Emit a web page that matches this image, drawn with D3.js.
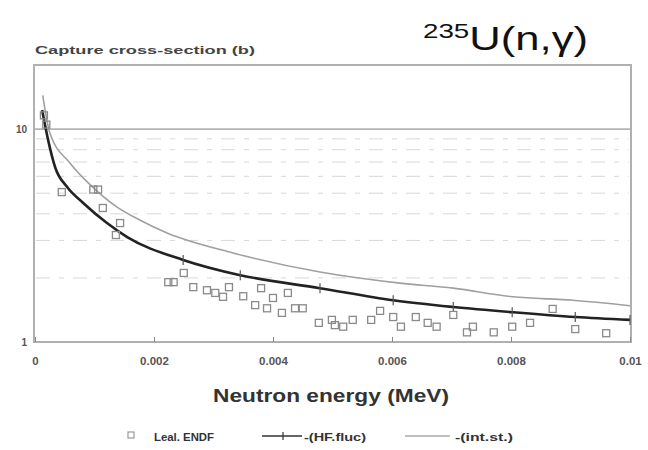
<!DOCTYPE html>
<html><head><meta charset="utf-8">
<script src="https://cdn.jsdelivr.net/npm/d3@7"></script>
<style>body{margin:0;background:#fff}svg{display:block}text{font-family:"Liberation Sans",Arial,sans-serif}</style>
</head><body><svg id="c" width="648" height="450"></svg>
<script>
// Leal. ENDF evaluated points (energy MeV, cross-section b)
const endfE = [0.00015,0.00019,0.00045,0.00098,0.00106,0.00114,0.00136,0.00143,0.00224,0.00233,0.0025,0.00266,0.00289,0.00303,0.00316,0.00326,0.0035,0.0037,0.0038,0.0039,0.004,0.00415,0.00425,0.00437,0.0045,0.00477,0.00499,0.00504,0.00518,0.00534,0.00565,0.0058,0.00602,0.00615,0.0064,0.0066,0.00675,0.00703,0.00726,0.00736,0.00771,0.00802,0.00832,0.0087,0.00908,0.0096];
const endfS = [11.6,10.5,5.06,5.2,5.2,4.26,3.18,3.62,1.91,1.91,2.11,1.81,1.75,1.70,1.63,1.81,1.64,1.49,1.79,1.44,1.61,1.37,1.70,1.44,1.44,1.23,1.27,1.20,1.18,1.27,1.27,1.40,1.31,1.18,1.31,1.23,1.18,1.34,1.11,1.18,1.11,1.18,1.23,1.43,1.15,1.10];
// -(HF.fluc) curve
const hfE = [0.00012,0.00022,0.00034,0.00054,0.00081,0.00121,0.00155,0.00249,0.00345,0.00479,0.00602,0.00703,0.00802,0.00908,0.01];
const hfS = [12.3,8.9,6.6,5.34,4.5,3.62,3.11,2.43,2.06,1.79,1.57,1.46,1.38,1.31,1.27];
// -(int.st.) curve
const isE = [0.00013,0.00025,0.00059,0.00097,0.00138,0.00176,0.00222,0.00333,0.00479,0.00613,0.00703,0.00803,0.00904,0.01];
const isS = [14.4,9.58,6.92,5.34,4.30,3.74,3.25,2.62,2.13,1.89,1.79,1.63,1.57,1.48];
const xTicks = [0,0.002,0.004,0.006,0.008,0.01];
const yTicks = [1,10];
const yMinor = [2,3,4,5,6,7,8,9];
const legendLabels = ["Leal. ENDF","-(HF.fluc)","-(int.st.)"];

const svg = d3.select("#c");
const x = d3.scaleLinear().domain([0,0.01]).range([35,630]);
const y = d3.scaleLog().domain([1,20]).range([342,65]);

// minor grid
svg.append("g").selectAll("line").data(yMinor).join("line")
  .attr("x1",36).attr("x2",629).attr("y1",d=>y(d)).attr("y2",d=>y(d))
  .attr("stroke","#d8d8d8").attr("stroke-width",1).attr("stroke-dasharray","14,9,5,9");
// major grid at 10
svg.append("line").attr("x1",34).attr("x2",631).attr("y1",y(10)).attr("y2",y(10))
  .attr("stroke","#b4b4b4").attr("stroke-width",1.6);

// frame
svg.append("rect").attr("x",34).attr("y",65).attr("width",597).attr("height",277)
  .attr("fill","none").attr("stroke","#b0b0b0").attr("stroke-width",2);

// x axis
const xa = svg.append("g").attr("transform","translate(0,342)")
  .call(d3.axisBottom(x).tickValues(xTicks).tickSize(-5).tickPadding(15)
    .tickFormat(d=>d===0?"0":d3.format(".3~f")(d)));
xa.select(".domain").remove();
xa.selectAll("line").attr("stroke","#888");
xa.selectAll("text").attr("fill","#555").attr("font-size","11.5px").attr("font-weight","bold").attr("font-family","Liberation Sans, Arial, sans-serif");

// y axis
const ya = svg.append("g").attr("transform","translate(34,0)")
  .call(d3.axisLeft(y).tickValues(yTicks).tickSize(0).tickPadding(7).tickFormat(d3.format("d")));
ya.select(".domain").remove();
ya.selectAll("text").attr("fill","#555").attr("font-size","10px").attr("font-weight","bold").attr("font-family","Liberation Sans, Arial, sans-serif");

const line = d3.line().x(d=>x(d[0])).y(d=>y(d[1])).curve(d3.curveMonotoneX);
svg.append("path").datum(d3.zip(isE,isS)).attr("d",line)
  .attr("fill","none").attr("stroke","#a0a0a0").attr("stroke-width",1.6);
svg.append("path").datum(d3.zip(hfE,hfS)).attr("d",line)
  .attr("fill","none").attr("stroke","#222").attr("stroke-width",2.6);
// plus marks on HF curve
svg.append("g").selectAll("line").data(d3.zip(hfE,hfS).filter(d=>d[0]>0.002)).join("line")
  .attr("x1",d=>x(d[0])).attr("x2",d=>x(d[0])).attr("y1",d=>y(d[1])-5).attr("y2",d=>y(d[1])+5)
  .attr("stroke","#555").attr("stroke-width",1.2);

// ENDF squares
svg.append("g").selectAll("rect").data(d3.zip(endfE,endfS)).join("rect")
  .attr("x",d=>x(d[0])-3.5).attr("y",d=>y(d[1])-3.5).attr("width",7).attr("height",7)
  .attr("fill","none").attr("stroke","#8a8a8a").attr("stroke-width",1.3);

// titles
svg.append("text").attr("x",35).attr("y",54).text("Capture cross-section (b)")
  .attr("font-size","11px").attr("font-weight","bold").attr("fill","#444")
  .attr("textLength",220).attr("lengthAdjust","spacingAndGlyphs");
const t = svg.append("text").attr("x",423).attr("y",50).attr("fill","#111").attr("font-size","33px")
  .attr("textLength",165).attr("lengthAdjust","spacingAndGlyphs");
t.append("tspan").attr("font-size","21px").attr("dy",-12).text("235");
t.append("tspan").attr("dy",12).text("U(n,γ)");

svg.append("text").attr("x",213).attr("y",402).text("Neutron energy (MeV)")
  .attr("font-size","18px").attr("font-weight","bold").attr("fill","#333")
  .attr("textLength",236).attr("lengthAdjust","spacingAndGlyphs");

// legend
const lg = svg.append("g");
lg.append("rect").attr("x",128).attr("y",432).attr("width",6).attr("height",6)
  .attr("fill","none").attr("stroke","#999").attr("stroke-width",1.2);
lg.append("line").attr("x1",262).attr("x2",302).attr("y1",436).attr("y2",436).attr("stroke","#333").attr("stroke-width",1.3);
lg.append("line").attr("x1",283).attr("x2",283).attr("y1",432).attr("y2",440).attr("stroke","#333").attr("stroke-width",1.2);
lg.append("line").attr("x1",405).attr("x2",450).attr("y1",436).attr("y2",436).attr("stroke","#aaa").attr("stroke-width",1.3);
lg.selectAll("text").data(legendLabels).join("text")
  .attr("x",(d,i)=>[154,304,455][i]).attr("y",441).text(d=>d)
  .attr("font-size","11px").attr("font-weight","bold").attr("fill","#333")
  .attr("textLength",(d,i)=>[60,62,58][i]).attr("lengthAdjust","spacingAndGlyphs");
</script></body></html>
